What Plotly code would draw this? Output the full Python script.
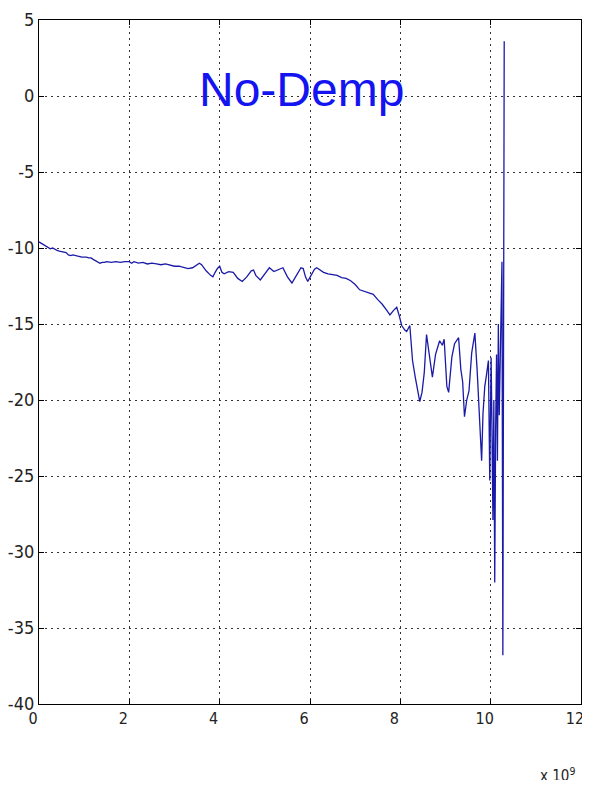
import plotly.graph_objects as go

# Frequency in units of 1e9 (axis shows "x 10^9")
freq = [0.00, 0.05, 0.10, 0.15, 0.20, 0.25, 0.30, 0.35, 0.40, 0.45, 0.50, 0.55, 0.60, 0.65, 0.70,
        0.75, 0.80, 0.85, 0.90, 0.95, 1.00, 1.05, 1.10, 1.15, 1.20, 1.25, 1.30, 1.35, 1.40, 1.45,
        1.50, 1.60, 1.70, 1.80, 1.90, 2.00, 2.05, 2.10, 2.20, 2.30, 2.40, 2.50, 2.60, 2.70, 2.80,
        2.90, 3.00, 3.10, 3.20, 3.30, 3.40, 3.50, 3.55, 3.60, 3.70, 3.80, 3.85, 3.90, 3.95, 4.00,
        4.05, 4.10, 4.20, 4.30, 4.40, 4.50, 4.60, 4.70, 4.75, 4.80, 4.90, 5.00, 5.10, 5.20, 5.30,
        5.40, 5.50, 5.60, 5.70, 5.80, 5.85, 5.90, 5.95, 6.00, 6.10, 6.15, 6.20, 6.30, 6.40, 6.50,
        6.60, 6.70, 6.80, 6.90, 7.00, 7.10, 7.20, 7.30, 7.40, 7.50, 7.60, 7.70, 7.77, 7.85, 7.92,
        7.98, 8.03, 8.10, 8.14, 8.21, 8.27, 8.33, 8.38, 8.43, 8.48, 8.53, 8.58, 8.63, 8.71, 8.78,
        8.87, 8.93, 8.97, 9.03, 9.07, 9.14, 9.20, 9.29, 9.34, 9.38, 9.42, 9.47, 9.52, 9.58, 9.65,
        9.70, 9.75, 9.80, 9.83, 9.87, 9.91, 9.95, 9.98, 10.01, 10.03, 10.05, 10.07, 10.09, 10.11,
        10.13, 10.15, 10.17, 10.19, 10.21, 10.23, 10.25, 10.27, 10.30]

response_db = [-9.6, -9.7, -9.8, -9.85, -9.95, -10.05, -10.0, -10.1, -10.15, -10.2, -10.25, -10.3, -10.3,
               -10.45, -10.5, -10.45, -10.5, -10.55, -10.55, -10.6, -10.6, -10.6, -10.65, -10.65, -10.75,
               -10.85, -10.9, -11.0, -10.95, -10.95, -10.9, -10.95, -10.9, -10.95, -10.9, -10.9, -11.0,
               -10.9, -11.0, -10.95, -11.05, -11.0, -11.05, -11.1, -11.05, -11.15, -11.2, -11.2, -11.25,
               -11.35, -11.3, -11.1, -11.0, -11.1, -11.5, -11.8, -11.9, -11.6, -11.35, -11.2, -11.6,
               -11.7, -11.55, -11.6, -12.0, -12.2, -11.9, -11.5, -11.45, -11.8, -12.1, -11.7, -11.3,
               -11.55, -11.4, -11.3, -11.9, -12.3, -11.8, -11.3, -11.35, -11.9, -12.2, -11.9, -11.4,
               -11.3, -11.4, -11.6, -11.7, -11.75, -11.8, -11.95, -12.0, -12.15, -12.4, -12.75, -12.85,
               -12.9, -13.05, -13.4, -13.7, -14.1, -14.4, -14.1, -13.9, -14.5, -15.1, -15.4, -15.5,
               -15.1, -17.4, -18.5, -19.3, -20.1, -19.5, -18.2, -15.7, -16.8, -18.5, -17.0, -16.1,
               -16.4, -16.0, -19.1, -19.5, -17.2, -16.3, -15.9, -18.0, -18.8, -21.1, -20.0, -19.4,
               -16.9, -15.6, -18.0, -21.3, -24.0, -20.9, -19.1, -18.3, -17.4, -25.3, -17.2, -22.0,
               -27.9, -20.0, -32.0, -22.0, -17.0, -24.0, -15.0, -21.0, -17.5, -14.9, -10.9, -36.8, 3.6]

x_ticks = [0, 2, 4, 6, 8, 10, 12]
y_ticks = [5, 0, -5, -10, -15, -20, -25, -30, -35, -40]
title_text = "No-Demp"

font_family = "DejaVu Sans Condensed, Liberation Sans Narrow, Liberation Sans, sans-serif"
y_tick_font = dict(family=font_family, size=18, color="#222222")
x_tick_font = dict(family=font_family, size=16, color="#222222")

fig = go.Figure()
fig.add_trace(go.Scatter(x=freq, y=response_db, mode="lines",
                         line=dict(color="#1a1aa8", width=1.3), showlegend=False))

axis_common = dict(showline=True, linecolor="black", linewidth=1.2, mirror="ticks",
                   ticks="inside", ticklen=5, tickcolor="black", tickwidth=1,
                   showgrid=True, gridcolor="#333333", gridwidth=1, griddash="2px,4px",
                   zeroline=False, automargin=False, ticklabeloverflow="allow")

fig.update_xaxes(range=[0, 12], tickvals=x_ticks, ticktext=[str(v) for v in x_ticks],
                 tickfont=x_tick_font, ticklabelshift=-6, **axis_common)
fig.update_yaxes(range=[-40, 5], tickvals=y_ticks, ticktext=[str(v) for v in y_ticks],
                 tickfont=y_tick_font, **axis_common)

fig.add_annotation(x=5.82, y=0.4, xref="x", yref="y", text=title_text, showarrow=False,
                   font=dict(family="Liberation Sans, Arial, sans-serif", size=48, color="#1414f0"))
fig.add_annotation(x=1.0, y=-0.104, xref="paper", yref="paper", text="x 10<sup>9</sup>",
                   showarrow=False, xanchor="right", yanchor="middle", xshift=-4,
                   font=dict(family=font_family, size=15, color="#222222"))

# The page body has an 8px default margin, so the figure is sized to fit the 590x788 window
# without any scrolling.
fig.update_layout(width=582, height=772, margin=dict(l=31, r=9, t=12, b=76),
                  plot_bgcolor="white", paper_bgcolor="white")

fig.write_html("out.html")
